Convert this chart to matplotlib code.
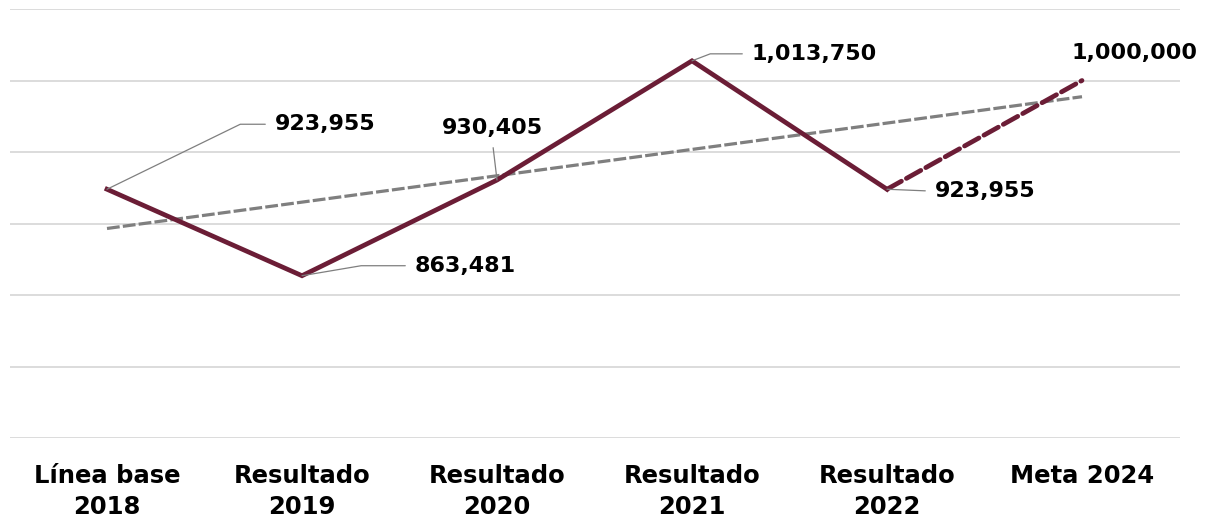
import matplotlib.pyplot as plt
import numpy as np

categories = ["Línea base\n2018", "Resultado\n2019", "Resultado\n2020",
              "Resultado\n2021", "Resultado\n2022", "Meta 2024"]
values = [923955, 863481, 930405, 1013750, 923955, 1000000]
labels = ["923,955", "863,481", "930,405", "1,013,750", "923,955", "1,000,000"]

maroon = "#6B1D36"
gray = "#7F7F7F"
font = "DejaVu Sans"

fig = plt.figure(figsize=(12.1, 5.18), dpi=100)
ax = fig.add_axes([9.5 / 1210, 80 / 518, 1170 / 1210, 429 / 518])

x = np.arange(len(values))

# solid part up to 2022, dashed to the goal
ax.plot(x[:5], values[:5], color=maroon, lw=3.4, solid_joinstyle="miter", zorder=3)
ax.plot(x[4:], values[4:], color=maroon, lw=3.4, ls=(0, (3.5, 1.2)),
        dash_capstyle="round", zorder=3)

# linear trend
m, b = np.polyfit(x, values, 1)
ax.plot(x, m * x + b, color=gray, lw=2.3, ls=(0, (4, 1)), zorder=2)

ax.set_xlim(-0.5, 5.5)
ax.set_ylim(750000, 1050000)
ax.set_yticks(np.arange(750000, 1050001, 50000))
ax.yaxis.grid(True, color="#D9D9D9", lw=1.3)
ax.set_axisbelow(True)
for s in ax.spines.values():
    s.set_visible(False)
ax.tick_params(left=False, labelleft=False, bottom=False)
ax.set_xticks(x)
ax.set_xticklabels(categories, fontsize=17.5, fontweight="bold", family=font,
                   linespacing=1.4)
ax.tick_params(axis="x", pad=15)

# data labels: offset in pixels, leader style
offsets = [(168, 65), (113, 10), (-5, 52), (60, 7), (48, -2), (52, 27)]
leaders = [
    dict(connectionstyle="angle,angleA=0,angleB=26,rad=0", relpos=(0, 0.5)),
    dict(connectionstyle="angle,angleA=0,angleB=9.6,rad=0", relpos=(0, 0.5)),
    dict(connectionstyle="arc3", relpos=(0.5, 0)),
    dict(connectionstyle="angle,angleA=0,angleB=21,rad=0", relpos=(0, 0.5)),
    dict(connectionstyle="arc3", relpos=(0, 0.5)),
    None,
]
for i in range(len(values)):
    ha = "left" if leaders[i] and leaders[i]["relpos"][0] == 0 else "center"
    kw = {}
    if leaders[i]:
        kw["arrowprops"] = dict(arrowstyle="-", color=gray, lw=0.9,
                                shrinkA=5, shrinkB=0, **leaders[i])
    ax.annotate(labels[i], (x[i], values[i]), xytext=offsets[i],
                textcoords="offset pixels", ha=ha, va="center",
                fontsize=16, fontweight="bold", family=font, **kw)

fig.savefig("out.png", dpi=100)
